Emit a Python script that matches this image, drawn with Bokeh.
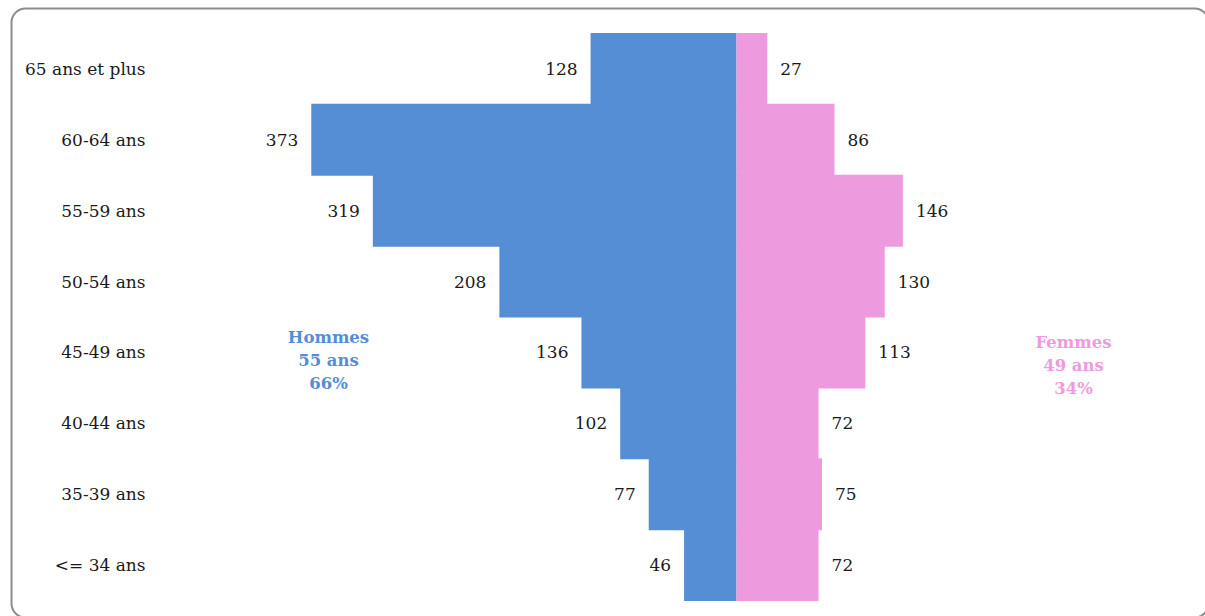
from bokeh.plotting import figure
from bokeh.models import ColumnDataSource, BoxAnnotation, Range1d
from bokeh.core.properties import value
from bokeh.embed import file_html
from bokeh.resources import INLINE

# ---- data ----
categories = ["<= 34 ans", "35-39 ans", "40-44 ans", "45-49 ans",
              "50-54 ans", "55-59 ans", "60-64 ans", "65 ans et plus"]
hommes = [46, 77, 102, 136, 208, 319, 373, 128]
femmes = [72, 75, 72, 113, 130, 146, 86, 27]
hommes_label = ["Hommes", "55 ans", "66%"]
femmes_label = ["Femmes", "49 ans", "34%"]

# ---- layout ----
W, H = 1205, 616
PX = 1.14              # pixels per person
CX = 736               # screen x of the centre line
ROW_TOP, ROW_BOT = 33, 600
ROW_H = (ROW_BOT - ROW_TOP) / len(categories)
X0 = -CX / PX
X1 = (W - CX) / PX
Y1 = len(categories) - 0.5 + ROW_TOP / ROW_H
Y0 = -0.5 - (H - ROW_BOT) / ROW_H


def xs(sx):
    return X0 + sx / PX


def ys(sy):
    return Y1 - sy / ROW_H


BLUE = "#558ED5"
PINK = "#EE9ADF"
FONT = "DejaVu Serif"

p = figure(width=W, height=H, output_backend="svg", toolbar_location=None,
           x_range=Range1d(X0, X1), y_range=Range1d(Y0, Y1),
           x_axis_location=None, y_axis_location=None, min_border=0)
p.outline_line_color = None
p.xgrid.visible = False
p.ygrid.visible = False
p.background_fill_color = "white"
p.border_fill_color = "white"

ypos = list(range(len(categories)))
src = ColumnDataSource(dict(
    y=ypos, cat=categories,
    hl=[-v for v in hommes], h=hommes, f=femmes,
    ht=[str(v) for v in hommes], ft=[str(v) for v in femmes],
    catx=[xs(145)] * len(categories),
))

p.hbar(y="y", left="hl", right=0, height=1.015, source=src,
       fill_color=BLUE, line_color=None)
p.hbar(y="y", left=0, right="f", height=1.015, source=src,
       fill_color=PINK, line_color=None)

p.text(x="hl", y="y", text="ht", source=src, x_offset=-13,
       text_align="right", text_baseline="middle",
       text_font=value(FONT), text_font_size="17px", text_color="#1a1a1a")
p.text(x="f", y="y", text="ft", source=src, x_offset=13,
       text_align="left", text_baseline="middle",
       text_font=value(FONT), text_font_size="17px", text_color="#1a1a1a")
p.text(x="catx", y="y", text="cat", source=src,
       text_align="right", text_baseline="middle",
       text_font=value(FONT), text_font_size="17px", text_color="#1a1a1a")

p.text(x=[xs(328)], y=[ys(360)], text=["\n".join(hommes_label)],
       text_align="center", text_baseline="middle", text_line_height=1.22,
       text_font=value(FONT), text_font_size="16.5px", text_font_style="bold",
       text_color=BLUE)
p.text(x=[xs(1073)], y=[ys(365)], text=["\n".join(femmes_label)],
       text_align="center", text_baseline="middle", text_line_height=1.22,
       text_font=value(FONT), text_font_size="16.5px", text_font_style="bold",
       text_color=PINK)

frame_box = BoxAnnotation(left=xs(11), right=xs(1208), top=ys(8), bottom=ys(617),
                          fill_alpha=0, line_color="#8c8c8c", line_alpha=1.0,
                          line_width=2, border_radius=14, editable=False)
p.add_layout(frame_box)

open("out.html", "w").write(file_html(p, INLINE))
